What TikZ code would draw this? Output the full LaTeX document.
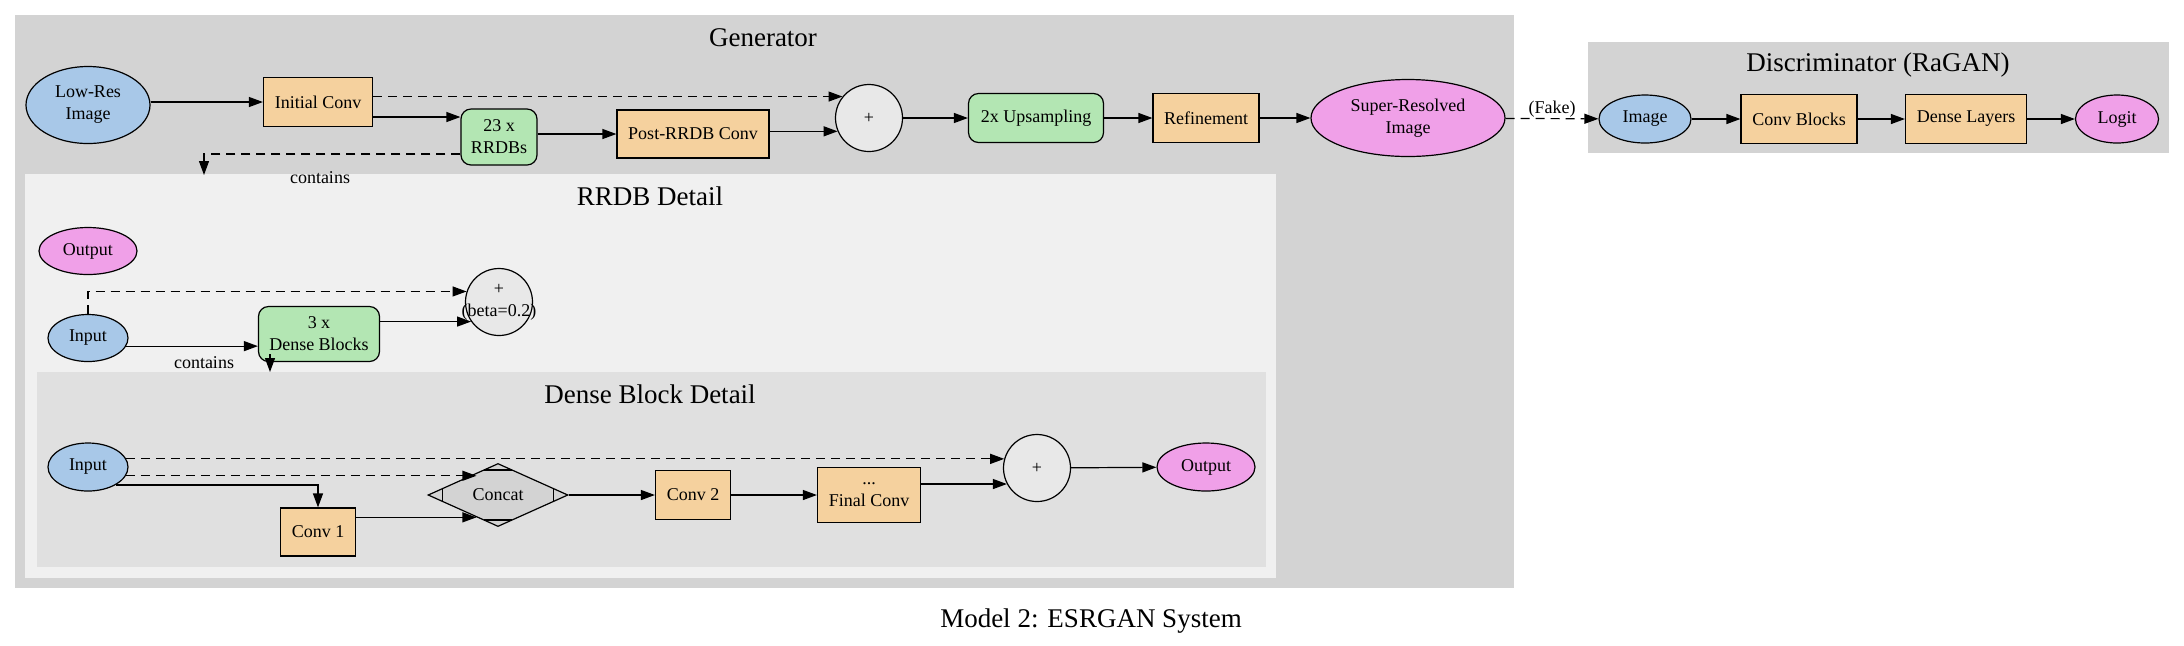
\documentclass[tikz,border=0pt]{standalone}
\usepackage{fontspec}
\setmainfont{Liberation Serif}
\usetikzlibrary{arrows.meta,shapes.geometric,calc}

\definecolor{inblue}{HTML}{A8C8E8}
\definecolor{outpink}{HTML}{F0A0E8}
\definecolor{convorange}{HTML}{F5D19E}
\definecolor{blockgreen}{HTML}{B3E6B3}
\definecolor{addgray}{HTML}{E8E8E8}
\definecolor{catgray}{HTML}{D3D3D3}
\definecolor{clustergray}{HTML}{D3D3D3}
\definecolor{rrdbbg}{HTML}{F0F0F0}
\definecolor{dbbg}{HTML}{E0E0E0}

\begin{document}
\begin{tikzpicture}[x=0.5pt,y=-0.5pt,font=\fontsize{9}{11}\selectfont,
		in_style/.style={ellipse,draw=black,fill=inblue,line width=0.6pt,inner sep=0pt,align=center},
		out_style/.style={ellipse,draw=black,fill=outpink,line width=0.6pt,inner sep=0pt,align=center},
		conv_style/.style={rectangle,draw=black,fill=convorange,line width=0.6pt,inner sep=0pt,align=center},
		block_style/.style={rectangle,rounded corners=5pt,draw=black,fill=blockgreen,line width=0.6pt,inner sep=0pt,align=center},
		add_style/.style={circle,draw=black,fill=addgray,line width=0.6pt,inner sep=0pt,minimum size=33.5pt,align=center},
		cat_style/.style={diamond,draw=black,fill=catgray,line width=0.6pt,inner sep=0pt,minimum width=70pt,minimum height=24pt,
			path picture={
				\foreach \c/\p/\q in {west/north/south,east/north/south,north/west/east,south/west/east}
					\draw[line width=0.6pt] ($(path picture bounding box.\c)!0.2!(path picture bounding box.\p)$) -- ($(path picture bounding box.\c)!0.2!(path picture bounding box.\q)$);
			}},
		edge_style/.style={draw=black,line width=0.6pt,-{Triangle[length=7pt,width=5pt]}},
		skip_style/.style={edge_style,dash pattern=on 4.5pt off 3pt},
		lbl_style/.style={font=\fontsize{9}{11}\selectfont,inner sep=0.5pt},
		title_style/.style={font=\fontsize{13.5}{16}\selectfont,inner sep=0pt}]

		\useasboundingbox (0,0) rectangle (2184,645);

		\fill[clustergray] (15,15) rectangle (1514,588);
		\fill[rrdbbg] (25,174) rectangle (1276,578);
		\fill[dbbg] (37,372) rectangle (1266,567);
		\fill[clustergray] (1588,42) rectangle (2169,153);

		\node[title_style] (gen_title) at (763,38) {Generator};
		\node[title_style] (rrdb_title) at (650,196) {RRDB Detail};
		\node[title_style] (db_title) at (650,394) {Dense Block Detail};
		\node[title_style] (disc_title) at (1878,65) {Discriminator (RaGAN)};
		\node[title_style] (caption) at (1091,621) {Model 2: ESRGAN System};

		\node[in_style,minimum width=62pt,minimum height=38.5pt] (lowres) at (88,105) {Low-Res\\Image};
		\node[conv_style,minimum width=54.5pt,minimum height=24.5pt] (initconv) at (318,102) {Initial Conv};
		\node[block_style,minimum width=38pt,minimum height=28pt] (rrdbs) at (499,137) {23 x\\RRDBs};
		\node[conv_style,minimum width=76pt,minimum height=24pt] (postconv) at (693,134) {Post-RRDB Conv};
		\node[add_style] (gadd) at (869,118) {+};
		\node[block_style,minimum width=67.5pt,minimum height=24.5pt] (upsample) at (1036,118) {2x Upsampling};
		\node[conv_style,minimum width=53pt,minimum height=24.5pt] (refine) at (1206,118) {Refinement};
		\node[out_style,minimum width=97pt,minimum height=38.5pt] (srimage) at (1408,118) {Super-Resolved\\Image};

		\node[in_style,minimum width=46pt,minimum height=24pt] (dimage) at (1645,119) {Image};
		\node[conv_style,minimum width=58pt,minimum height=24.5pt] (convblocks) at (1799,119) {Conv Blocks};
		\node[conv_style,minimum width=60.5pt,minimum height=24.5pt] (denselayers) at (1966,119) {Dense Layers};
		\node[out_style,minimum width=41.5pt,minimum height=24pt] (logit) at (2117,119) {Logit};

		\node[out_style,minimum width=49pt,minimum height=23.5pt] (rout) at (88,251) {Output};
		\node[add_style] (radd) at (499,302) {\makebox[0pt]{+}\\\makebox[0pt]{(beta=0.2)}};
		\node[in_style,minimum width=40pt,minimum height=23.5pt] (rin) at (88,338) {Input};
		\node[block_style,minimum width=60.5pt,minimum height=27.5pt] (denseblocks) at (319,334) {3 x\\Dense Blocks};

		\node[in_style,minimum width=40pt,minimum height=24pt] (din) at (88,467) {Input};
		\node[conv_style,minimum width=37.5pt,minimum height=24pt] (conv1) at (318,532) {Conv 1};
		\node[cat_style] (concat) at (498,495) {Concat};
		\node[conv_style,minimum width=37.5pt,minimum height=24.5pt] (conv2) at (693,495) {Conv 2};
		\node[conv_style,minimum width=51.5pt,minimum height=27.5pt] (finalconv) at (869,495) {...\\Final Conv};
		\node[add_style] (dadd) at (1037,468) {+};
		\node[out_style,minimum width=49pt,minimum height=24pt] (dout) at (1206,467) {Output};

		\coordinate (rrdb_top) at (204,175);
		\coordinate (db_top) at (270,372);
		\node[lbl_style] (contains1) at (320,178) {contains};
		\node[lbl_style] (contains2) at (204,363) {contains};

		\draw[edge_style] (lowres.east |- initconv.west) -- (initconv.west);
		\draw[edge_style] ($(initconv.east)+(0,15)$) -- ($(rrdbs.west)+(0,-20)$);
		\draw[skip_style] (gadd.141 -| initconv.east) -- (gadd.141);
		\draw[edge_style] (rrdbs.east |- postconv.west) -- (postconv.west);
		\draw[edge_style] (gadd.203 -| postconv.east) -- (gadd.203);
		\draw[edge_style] (gadd) -- (upsample);
		\draw[edge_style] (upsample) -- (refine);
		\draw[edge_style] (refine) -- (srimage);
		\draw[skip_style] (srimage) -- node[lbl_style,above] (fake_lbl) {(Fake)} (dimage);
		\draw[edge_style] (dimage) -- (convblocks);
		\draw[edge_style] (convblocks) -- (denselayers);
		\draw[edge_style] (denselayers) -- (logit);
		\draw[skip_style] ($(rrdbs.west)+(0,17)$) -| (rrdb_top);

		\draw[skip_style] (rin.north) |- (radd.162);
		\draw[edge_style] (rin.-12) -- (rin.-12 -| denseblocks.west);
		\draw[edge_style] (radd.215 -| denseblocks.east) -- (radd.215);
		\draw[skip_style] ($(denseblocks.south -| db_top)+(0,-8)$) -- (db_top);

		\draw[skip_style] (din.12) -- (din.12 -| dadd.164);
		\draw[skip_style] (din.-13) -- (din.-13 -| concat.134);
		\draw[edge_style] (din.-33) -| (conv1.north);
		\draw[edge_style] (concat.226 -| conv1.east) -- (concat.226);
		\draw[edge_style] (concat) -- (conv2);
		\draw[edge_style] (conv2) -- (finalconv);
		\draw[edge_style] (dadd.208 -| finalconv.east) -- (dadd.208);
		\draw[edge_style] (dadd) -- (dout);

\end{tikzpicture}
\end{document}
